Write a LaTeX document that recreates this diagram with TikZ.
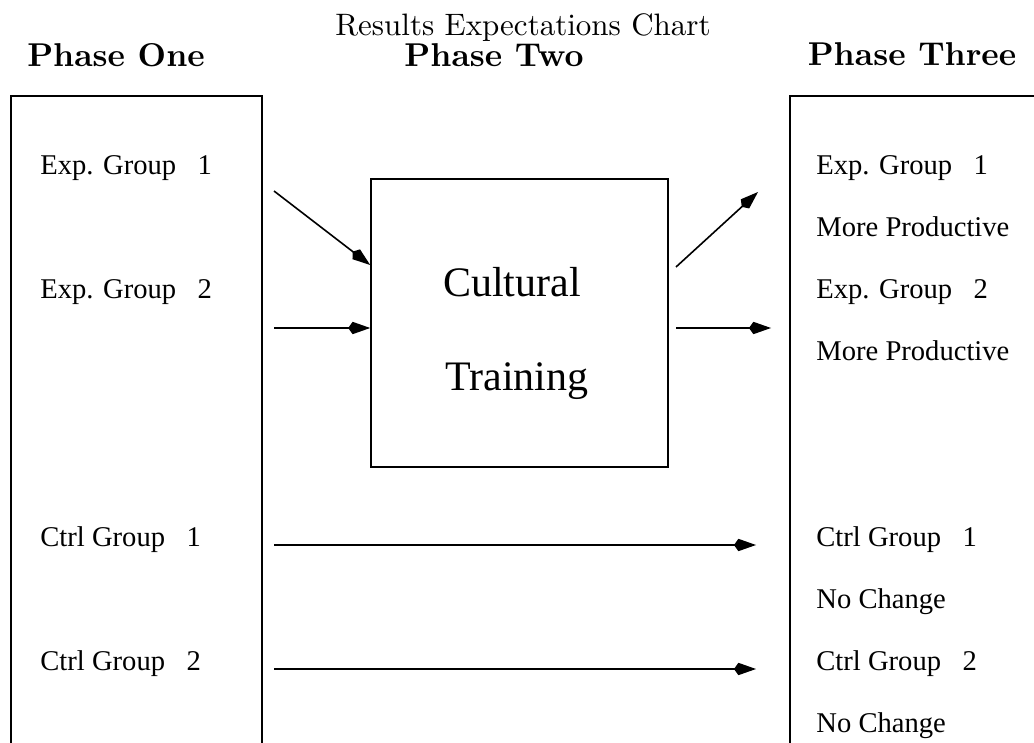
\documentclass[tikz,border=0pt]{standalone}
\usepackage{fontspec}
\newfontfamily\timesfont{Liberation Serif}
\newfontfamily\cmfont[BoldFont=lmroman10-bold.otf]{lmroman10-regular.otf}
\usepackage{tikz}
\usetikzlibrary{
        arrows.meta,
        positioning
    }

\begin{document}
\begin{tikzpicture}
[x=0.5pt, y=-0.5pt,
grouptext/.style={anchor=base west, inner sep=0pt, font=\timesfont\fontsize{14.3}{16}\selectfont},
phasehead/.style={anchor=base, inner sep=0pt, font=\cmfont\fontsize{16.5}{18}\selectfont\bfseries},
boxline/.style={line width=0.8pt},
arrow/.style={line width=0.8pt, -{Kite[length=11pt, width=6.2pt, inset=2.2pt]}},]
    \useasboundingbox (0,0) rectangle (1034,743);

    % headings
    \node (title) [anchor=base, inner sep=0pt, font=\cmfont\fontsize{15.5}{17}\selectfont] at (523,36) {Results Expectations Chart};
    \node (head1) [phasehead] at (116,67) {Phase One};
    \node (head2) [phasehead] at (494,67) {Phase Two};
    \node (head3) [phasehead] at (912,66) {Phase Three};

    % open columns, running off the page
    \draw[boxline] (11,743) -- (11,96) -- (262,96) -- (262,743);
    \draw[boxline] (790,743) -- (790,96) -- (1040,96);

    % middle box
    \node (train) [draw, boxline, minimum width=148.5pt, minimum height=144pt, inner sep=0pt] at (519.5,323) {};
    \node (cult) [anchor=base, inner sep=0pt, font=\timesfont\fontsize{21}{24}\selectfont] at (512,297) {Cultural};
    \node (trng) [anchor=base, inner sep=0pt, font=\timesfont\fontsize{21}{24}\selectfont] at (517,391) {Training};

    % phase one groups
    \node (exp1) [grouptext] at (40,175) {Exp. Group\hskip0.75em 1};
    \node (exp2) [grouptext] at (40,299) {Exp. Group\hskip0.75em 2};
    \node (ctl1) [grouptext] at (40,546) {Ctrl Group\hskip0.75em 1};
    \node (ctl2) [grouptext] at (40,670) {Ctrl Group\hskip0.75em 2};

    % phase three results
    \node (res1) [grouptext] at (816,175) {Exp. Group\hskip0.75em 1};
    \node (out1) [grouptext] at (816,237) {More Productive};
    \node (res2) [grouptext] at (816,299) {Exp. Group\hskip0.75em 2};
    \node (out2) [grouptext] at (816,361) {More Productive};
    \node (res3) [grouptext] at (816,546) {Ctrl Group\hskip0.75em 1};
    \node (out3) [grouptext] at (816,608) {No Change};
    \node (res4) [grouptext] at (816,670) {Ctrl Group\hskip0.75em 2};
    \node (out4) [grouptext] at (816,732) {No Change};

    % arrow ends
    \coordinate (in1) at (274,191);
    \coordinate (in2) at (274,328);
    \coordinate (up1) at (676,267);
    \coordinate (up2) at (758,192);
    \coordinate (rt1) at (676,328);
    \coordinate (rt2) at (771,328);
    \coordinate (c1a) at (274,545);
    \coordinate (c1b) at (756,545);
    \coordinate (c2a) at (274,669);
    \coordinate (c2b) at (756,669);

    \draw[arrow] (in1) -- (train.west |- 0,265);
    \draw[arrow] (in2) -- (train.west |- in2);
    \draw[arrow] (up1) -- (up2);
    \draw[arrow] (rt1) -- (rt2);
    \draw[arrow] (c1a) -- (c1b);
    \draw[arrow] (c2a) -- (c2b);
\end{tikzpicture}
\end{document}
